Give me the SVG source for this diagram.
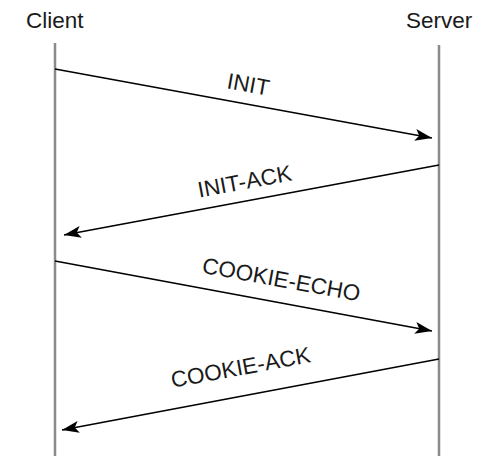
<svg xmlns="http://www.w3.org/2000/svg" width="478" height="456" viewBox="0 0 478 456">
<style>
.life{stroke:#8a8a8a;stroke-width:2.5;fill:none}
.msg{stroke:#000;stroke-width:1.6;fill:none;marker-end:url(#ah)}
text{font-family:"Liberation Sans",Arial,sans-serif;font-size:22.5px;fill:#1a1a1a}
.lbl{text-anchor:middle}
</style>
<defs>
<marker id="ah" markerUnits="userSpaceOnUse" markerWidth="18" markerHeight="12" refX="17" refY="6" orient="auto">
<path d="M0,0 L17,6 L0,12 L4,6 Z" fill="#000"/>
</marker>
</defs>
<g id="client">
<text x="26" y="28">Client</text>
<line class="life" x1="55" y1="43" x2="55" y2="456"/>
</g>
<g id="server">
<text x="406" y="28">Server</text>
<line class="life" x1="439" y1="45" x2="439" y2="456"/>
</g>
<g id="connectors">
<line class="msg" x1="55" y1="69" x2="432" y2="138"/>
<line class="msg" x1="439" y1="165" x2="64" y2="235"/>
<line class="msg" x1="55" y1="261" x2="432" y2="331"/>
<line class="msg" x1="439" y1="359" x2="62" y2="430"/>
</g>
<g id="labels">
<text class="lbl" x="247" y="92" transform="rotate(10.3 247 92)">INIT</text>
<text class="lbl" x="246" y="189" transform="rotate(-10.5 246 189)">INIT-ACK</text>
<text class="lbl" x="280" y="287" transform="rotate(10.3 280 287)">COOKIE-ECHO</text>
<text class="lbl" x="242" y="375" transform="rotate(-10.5 242 375)">COOKIE-ACK</text>
</g>
</svg>
